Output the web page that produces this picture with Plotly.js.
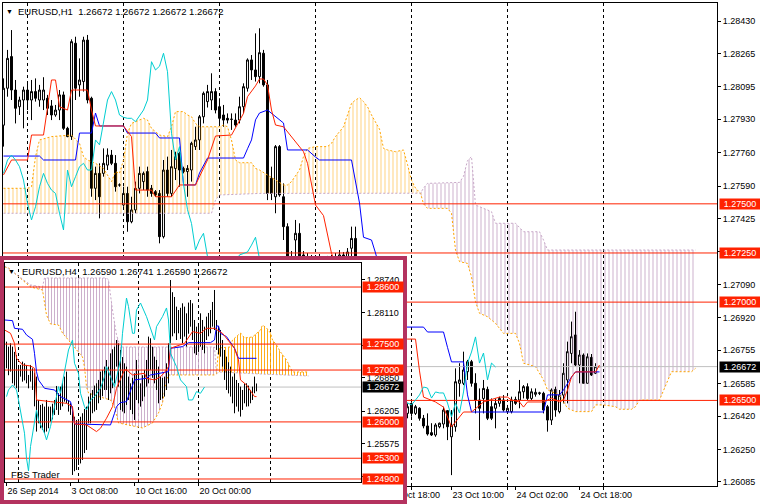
<!DOCTYPE html>
<html><head><meta charset="utf-8">
<script src="https://cdn.plot.ly/plotly-3.0.1.min.js"></script>
<style>html,body{margin:0;padding:0;background:#fff;}#chart{width:760px;height:504px;}</style>
</head><body><div id="chart"></div>
<script>
// ================= MAIN CHART: EURUSD H1 =================
// bar number 0 = 23 Oct 00:00 ; bars are consecutive hours
const h1FirstBar = -102;
const h1Open = [1.27900,1.28088,1.28249,1.28079,1.27994,1.28028,1.28079,1.28028,1.28071,1.28028,1.28028,1.28037,1.27998,1.27952,1.27977,1.28054,1.27884,1.27842,1.28317,1.28105,1.28122,1.28333,1.28037,1.27579,1.27655,1.27655,1.27697,1.27748,1.27706,1.27596,1.27494,1.27553,1.27409,1.27469,1.27579,1.27613,1.27664,1.27579,1.27562,1.27553,1.27333,1.27672,1.27553,1.27680,1.27757,1.27680,1.27664,1.27672,1.27791,1.27825,1.27943,1.28020,1.28028,1.28071,1.27994,1.27952,1.27935,1.27930,1.27926,1.27926,1.27994,1.28088,1.28232,1.28181,1.28147,1.28266,1.28105,1.27630,1.27536,1.27791,1.27536,1.27384,1.27231,1.27316,1.27350,1.27240,1.27190,1.27220,1.27160,1.27200,1.27180,1.27210,1.27214,1.27231,1.27214,1.27240,1.27225,1.27274,1.27324,1.27200,1.27080,1.27000,1.26950,1.26880,1.26800,1.26720,1.26650,1.26560,1.26500,1.26460,1.26480,1.26434,1.26485,1.26434,1.26460,1.26409,1.26370,1.26336,1.26324,1.26366,1.26380,1.26448,1.26315,1.26366,1.26587,1.26587,1.26646,1.26697,1.26587,1.26502,1.26510,1.26556,1.26468,1.26460,1.26485,1.26502,1.26443,1.26443,1.26505,1.26502,1.26544,1.26570,1.26510,1.26531,1.26536,1.26536,1.26468,1.26400,1.26556,1.26443,1.26527,1.26604,1.26739,1.26833,1.26680,1.26731,1.26587,1.26719,1.26638,1.26672];
const h1High = [1.28138,1.28283,1.28384,1.28130,1.28045,1.28096,1.28113,1.28130,1.28138,1.28105,1.28144,1.28054,1.28028,1.28003,1.28079,1.28071,1.27892,1.28337,1.28350,1.28240,1.28350,1.28359,1.28045,1.27689,1.27706,1.27782,1.27782,1.27774,1.27748,1.27604,1.27587,1.27587,1.27536,1.27613,1.27689,1.27664,1.27689,1.27596,1.27570,1.27570,1.27723,1.27740,1.27774,1.27765,1.27765,1.27689,1.27697,1.27816,1.27892,1.27952,1.28071,1.28105,1.28164,1.28088,1.28037,1.28003,1.27960,1.27960,1.27960,1.28045,1.28113,1.28240,1.28257,1.28367,1.28393,1.28283,1.28130,1.27689,1.27799,1.27799,1.27604,1.27401,1.27260,1.27418,1.27401,1.27260,1.27250,1.27240,1.27230,1.27245,1.27230,1.27235,1.27240,1.27250,1.27265,1.27255,1.27275,1.27384,1.27384,1.27215,1.27150,1.27100,1.27050,1.26950,1.26900,1.26800,1.26700,1.26640,1.26580,1.26520,1.26510,1.26485,1.26490,1.26477,1.26465,1.26426,1.26434,1.26384,1.26384,1.26387,1.26468,1.26451,1.26451,1.26663,1.26689,1.26748,1.26706,1.26706,1.26638,1.26561,1.26604,1.26570,1.26510,1.26510,1.26519,1.26527,1.26477,1.26519,1.26519,1.26604,1.26578,1.26587,1.26561,1.26561,1.26544,1.26544,1.26477,1.26561,1.26570,1.26553,1.26689,1.26799,1.26901,1.26951,1.26756,1.26739,1.26739,1.26736,1.26689,1.26672];
const h1Low = [1.27791,1.28045,1.28028,1.27909,1.27952,1.27884,1.27977,1.27926,1.28020,1.27994,1.27977,1.27952,1.27926,1.27943,1.27926,1.27876,1.27839,1.27825,1.28028,1.28045,1.28071,1.28011,1.27536,1.27519,1.27426,1.27638,1.27672,1.27697,1.27562,1.27587,1.27485,1.27358,1.27401,1.27452,1.27553,1.27570,1.27536,1.27536,1.27536,1.27299,1.27324,1.27536,1.27536,1.27621,1.27587,1.27655,1.27536,1.27613,1.27774,1.27774,1.27909,1.27990,1.27977,1.27960,1.27901,1.27892,1.27909,1.27876,1.27892,1.27909,1.27960,1.28071,1.28130,1.28122,1.28113,1.28096,1.27519,1.27519,1.27452,1.27536,1.27316,1.27180,1.27150,1.27231,1.27214,1.27150,1.27130,1.27120,1.27100,1.27150,1.27120,1.27140,1.27150,1.27160,1.27170,1.27180,1.27190,1.27214,1.27214,1.27050,1.26980,1.26900,1.26850,1.26750,1.26700,1.26600,1.26520,1.26480,1.26420,1.26400,1.26410,1.26409,1.26417,1.26426,1.26397,1.26358,1.26321,1.26319,1.26315,1.26358,1.26358,1.26298,1.26120,1.26341,1.26519,1.26578,1.26604,1.26570,1.26434,1.26298,1.26434,1.26400,1.26400,1.26358,1.26468,1.26443,1.26434,1.26434,1.26477,1.26460,1.26510,1.26502,1.26502,1.26519,1.26527,1.26434,1.26341,1.26375,1.26417,1.26434,1.26485,1.26485,1.26689,1.26672,1.26587,1.26587,1.26587,1.26624,1.26634,1.26672];
const h1Close = [1.28088,1.28240,1.28079,1.27986,1.28028,1.28079,1.28028,1.28071,1.28037,1.28079,1.28079,1.27986,1.27952,1.27977,1.28054,1.27884,1.27842,1.28325,1.28088,1.28130,1.28333,1.28028,1.27579,1.27655,1.27536,1.27706,1.27748,1.27706,1.27587,1.27596,1.27553,1.27409,1.27469,1.27579,1.27655,1.27655,1.27570,1.27553,1.27545,1.27333,1.27672,1.27553,1.27689,1.27740,1.27672,1.27664,1.27680,1.27808,1.27825,1.27943,1.28062,1.28071,1.28071,1.27977,1.27935,1.27926,1.27926,1.27930,1.27901,1.27994,1.28096,1.28232,1.28181,1.28147,1.28269,1.28105,1.27553,1.27553,1.27791,1.27545,1.27384,1.27231,1.27200,1.27350,1.27231,1.27190,1.27220,1.27160,1.27200,1.27180,1.27210,1.27214,1.27231,1.27214,1.27240,1.27225,1.27255,1.27324,1.27231,1.27080,1.27000,1.26950,1.26880,1.26800,1.26720,1.26650,1.26560,1.26500,1.26460,1.26480,1.26434,1.26468,1.26434,1.26468,1.26409,1.26370,1.26329,1.26324,1.26375,1.26384,1.26451,1.26366,1.26375,1.26595,1.26604,1.26655,1.26697,1.26587,1.26502,1.26460,1.26561,1.26409,1.26409,1.26485,1.26510,1.26451,1.26460,1.26502,1.26485,1.26544,1.26570,1.26510,1.26544,1.26541,1.26538,1.26451,1.26400,1.26553,1.26451,1.26527,1.26638,1.26748,1.26824,1.26680,1.26731,1.26587,1.26722,1.26629,1.26672,1.26672];

const h1TenkanX = [-102,-100,-96,-95,-92,-91,-90,-89,-88,-86,-85,-81,-80,-79,-72,-70,-69,-65,-64,-60,-58,-54,-51,-49,-45,-42,-41,-39,-38,-37,-36,-35,-34,-32,-27,-26,-25,-24,-22,-21,-20,-18,-14,-10,-5,-2,-1,1,2,3,6,8,10,12,13,15,18,22,24,25,27,28,29,33,35,37,38,39,40,41,46,47];
const h1TenkanY = [1.27647,1.27723,1.27723,1.27850,1.27850,1.27980,1.28130,1.28130,1.27994,1.27977,1.28079,1.28079,1.27977,1.27896,1.27896,1.27842,1.27570,1.27570,1.27536,1.27536,1.27596,1.27596,1.27723,1.27845,1.27850,1.27960,1.28045,1.28100,1.28135,1.28135,1.28105,1.27977,1.27901,1.27892,1.27765,1.27706,1.27604,1.27494,1.27440,1.27350,1.27248,1.27150,1.27050,1.26950,1.26880,1.26812,1.26812,1.26812,1.26650,1.26517,1.26492,1.26466,1.26365,1.26416,1.26441,1.26441,1.26492,1.26517,1.26517,1.26502,1.26492,1.26466,1.26492,1.26492,1.26512,1.26492,1.26502,1.26553,1.26619,1.26645,1.26645,1.26680];
const h1KijunX = [-102,-93,-92,-84,-83,-80,-79,-78,-72,-71,-64,-63,-58,-57,-54,-53,-51,-42,-41,-40,-39,-38,-36,-34,-32,-31,-26,-24,-23,-15,-14,-13,-12,-10,-9,-7,-5,-3,3,4,8,9,10,13,14,15,33,34,37,38,39,40,41,47];
const h1KijunY = [1.27743,1.27743,1.27723,1.27723,1.27860,1.27860,1.27962,1.27896,1.27896,1.27860,1.27860,1.27835,1.27835,1.27596,1.27596,1.27657,1.27733,1.27733,1.27780,1.27825,1.27927,1.27962,1.27977,1.27942,1.27911,1.27774,1.27774,1.27738,1.27723,1.27723,1.27621,1.27504,1.27330,1.27316,1.27250,1.27100,1.26950,1.26873,1.26873,1.26848,1.26848,1.26770,1.26696,1.26696,1.26528,1.26441,1.26441,1.26528,1.26528,1.26553,1.26589,1.26619,1.26645,1.26645];
const h1ChikouX = [-102,-101,-100,-99,-98,-97,-96,-95,-94,-93,-92,-91,-90,-89,-88,-87,-86,-85,-84,-83,-82,-81,-80,-79,-78,-77,-76,-75,-74,-73,-72,-71,-70,-69,-68,-67,-66,-65,-64,-63,-62,-61,-60,-59,-58,-57,-56,-55,-54,-53,-52,-51,-50,-48,-46,-44,-43,-41,-40,-39,-38,-36,-32,-28,-24,-20,-16,-12,-8,-4,-2,-1,0,1,2,3,4,5,6,7,8,9,10,11,12,13,14,15,16,17,18,19,20,21];
const h1ChikouY = [1.27655,1.27723,1.27748,1.27723,1.27689,1.27621,1.27502,1.27418,1.27485,1.27587,1.27655,1.27604,1.27570,1.27553,1.27452,1.27367,1.27672,1.27587,1.27638,1.27689,1.27706,1.27672,1.27672,1.27825,1.27800,1.27920,1.28028,1.28071,1.28028,1.27952,1.27940,1.27935,1.27935,1.27918,1.27950,1.27977,1.28028,1.28223,1.28181,1.28200,1.28266,1.28172,1.27859,1.27723,1.27791,1.27600,1.27470,1.27400,1.27265,1.27316,1.27350,1.27231,1.27180,1.27100,1.27150,1.27200,1.27240,1.27255,1.27290,1.27330,1.27220,1.27100,1.26950,1.26850,1.26750,1.26700,1.26650,1.26600,1.26560,1.26520,1.26500,1.26490,1.26477,1.26502,1.26528,1.26568,1.26563,1.26512,1.26543,1.26538,1.26538,1.26487,1.26416,1.26487,1.26436,1.26543,1.26690,1.26746,1.26823,1.26690,1.26741,1.26604,1.26690,1.26670];
const h1SpanAX = [-102,-96,-95,-94,-93,-90,-85,-83,-82,-81,-79,-77,-75,-74,-73,-72,-71,-70,-67,-66,-65,-63,-61,-60,-59,-57,-56,-55,-54,-53,-48,-47,-46,-45,-44,-43,-40,-39,-38,-34,-32,-31,-30,-28,-27,-26,-24,-21,-20,-19,-17,-16,-15,-14,-13,-12,-11,-10,-9,-8,-7,-6,-4,-2,-1,0,1,2.25,3,4,9,10,11,12,14,15,16,17,19,21,23,26,27,28,31,32,33,34,36,37,39,41,45,46,48,51,52,55,56,57,62,63,64,65,70,71];
const h1SpanAY = [1.27579,1.27579,1.27587,1.27740,1.27825,1.27842,1.27850,1.27808,1.27740,1.27723,1.27706,1.27680,1.27613,1.27664,1.27655,1.27723,1.27859,1.27909,1.27935,1.27926,1.27884,1.27850,1.27842,1.27892,1.27969,1.27969,1.27952,1.27943,1.27909,1.27892,1.27892,1.27901,1.27892,1.27825,1.27723,1.27709,1.27709,1.27680,1.27672,1.27621,1.27596,1.27596,1.27613,1.27672,1.27740,1.27782,1.27791,1.27791,1.27808,1.27842,1.27892,1.27952,1.28011,1.28028,1.28040,1.28020,1.27994,1.27952,1.27918,1.27880,1.27782,1.27774,1.27765,1.27774,1.27700,1.27620,1.27580,1.27554,1.27500,1.27477,1.27477,1.27452,1.27265,1.27206,1.27197,1.27129,1.27002,1.26943,1.26926,1.26892,1.26841,1.26841,1.26790,1.26689,1.26672,1.26638,1.26604,1.26553,1.26536,1.26527,1.26460,1.26443,1.26443,1.26477,1.26477,1.26468,1.26455,1.26455,1.26468,1.26502,1.26502,1.26553,1.26604,1.26646,1.26646,1.26663];
const h1SpanBX = [-102,-50,-49,-48,-38,2.25,3,4,12,13,14,15,16,20,21,26,28,32,33,34,71];
const h1SpanBY = [1.27452,1.27452,1.27519,1.27545,1.27553,1.27554,1.27580,1.27604,1.27609,1.27640,1.27720,1.27740,1.27494,1.27460,1.27401,1.27401,1.27358,1.27358,1.27316,1.27265,1.27265];
const h1CloudCross = [2.25];
const h1Levels = [1.27500, 1.27250, 1.27000, 1.26500];
const h1Bid = 1.26672;
const h1PriceTicks = ['1.28430','1.28265','1.28095','1.27930','1.27760','1.27590','1.27425','1.27255','1.27090','1.26920','1.26755','1.26585','1.26420','1.26250','1.26085'];
const h1HiddenTicks = ['1.27255'];
const h1TimeTickPos = [-6, 10, 26, 42];
const h1TimeTickText = ['22 Oct 18:00','23 Oct 10:00','24 Oct 02:00','24 Oct 18:00'];
const h1GridPos = [-96, -72, -48, -24, 0, 24, 48];
const h1Title = 'EURUSD,H1  1.26672 1.26672 1.26672 1.26672';

// ================= INSET: EURUSD H4 =================
// bar number 0 = 20 Oct 00:00 ; bars are consecutive 4-hour periods
const h4FirstBar = -96;
const h4High = [1.27547,1.27450,1.27515,1.27451,1.27350,1.27290,1.27066,1.27098,1.27162,1.27130,1.27098,1.26905,1.27098,1.27033,1.26950,1.26873,1.26423,1.26327,1.26350,1.26295,1.26423,1.26295,1.26295,1.26350,1.26423,1.26693,1.26552,1.26680,1.26750,1.26873,1.26969,1.26423,1.26359,1.26295,1.26100,1.26038,1.26038,1.26100,1.26167,1.26250,1.26295,1.26488,1.26552,1.26616,1.26700,1.26744,1.26809,1.26969,1.27000,1.27066,1.27194,1.27066,1.27322,1.27400,1.27451,1.27579,1.27515,1.27387,1.27250,1.27130,1.27066,1.26873,1.26744,1.26850,1.26937,1.27194,1.27001,1.26744,1.26900,1.27001,1.27194,1.27644,1.27612,1.27450,1.27258,1.27194,1.27066,1.26873,1.26850,1.26873,1.27130,1.27515,1.28735,1.28500,1.28408,1.28222,1.28157,1.28200,1.28286,1.28222,1.28093,1.28300,1.28350,1.28286,1.27965,1.27836,1.27900,1.28093,1.27965,1.27836,1.28029,1.28100,1.28157,1.28312,1.28543,1.27965,1.27850,1.27772,1.27579,1.27387,1.27258,1.27150,1.27066,1.26873,1.26937,1.26809,1.26750,1.26680,1.26616,1.26744,1.26744,1.26700,1.26616,1.26680,1.26873,1.26741];
const h4Low = [1.27033,1.26900,1.26969,1.26744,1.26700,1.26648,1.26616,1.26873,1.26776,1.26800,1.26744,1.26648,1.26776,1.26616,1.26300,1.25814,1.25974,1.25878,1.25850,1.25782,1.25814,1.25878,1.26006,1.26050,1.26135,1.26231,1.26135,1.26231,1.26300,1.26391,1.26359,1.26199,1.26135,1.24978,1.25050,1.25074,1.25170,1.25200,1.25267,1.25400,1.25460,1.25974,1.25974,1.26167,1.26200,1.26231,1.26359,1.26423,1.26500,1.26616,1.26616,1.26423,1.26552,1.26650,1.26744,1.27066,1.26680,1.26231,1.26200,1.26167,1.26327,1.26423,1.26231,1.26150,1.26038,1.26423,1.26359,1.26295,1.26400,1.26488,1.26680,1.26744,1.27001,1.26850,1.26744,1.26616,1.26359,1.26423,1.26450,1.26488,1.26616,1.26744,1.27515,1.27650,1.27708,1.27579,1.27708,1.27600,1.27515,1.27644,1.27451,1.27700,1.27836,1.27579,1.27322,1.27290,1.27350,1.27451,1.27387,1.27322,1.27579,1.27650,1.27708,1.27836,1.27772,1.27387,1.27300,1.27258,1.27066,1.26809,1.26616,1.26550,1.26488,1.26359,1.26167,1.26295,1.26200,1.26103,1.26231,1.26359,1.26295,1.26300,1.26359,1.26423,1.26552,1.26590];
const h4TenkanX = [-97,-94,-92,-91,-88,-84,-82,-81,-74,-66,-63,-62,-56,-51,-49,-46,-43,-41,-37,-36,-33,-27,-26,-22,-19,-17,-15,-14,-7,-3,1,4,8,12,16,18,20,21,24,28,29];
const h4TenkanY = [1.27772,1.27708,1.27515,1.27226,1.27098,1.27079,1.27033,1.26423,1.26391,1.26359,1.26295,1.25961,1.25942,1.25814,1.25878,1.26071,1.26295,1.26648,1.27001,1.27001,1.26905,1.26937,1.26841,1.26809,1.26873,1.26950,1.27066,1.27419,1.27515,1.27740,1.27708,1.27804,1.27804,1.27708,1.27515,1.27419,1.27194,1.26809,1.26712,1.26488,1.26488];
const h4KijunX = [-97,-93,-92,-88,-86,-83,-82,-81,-80,-77,-72,-69,-64,-63,-62,-44,-42,-41,-39,-36,-32,-26,-24,-19,-15,-14,-8,-5,6,8,9,10,11,14,18,20,29];
const h4KijunY = [1.27965,1.27952,1.27804,1.27785,1.27676,1.27592,1.27322,1.26969,1.26809,1.26648,1.26616,1.26488,1.26391,1.26231,1.25961,1.25942,1.26167,1.26295,1.26373,1.26391,1.26809,1.26841,1.26905,1.26937,1.26969,1.27419,1.27451,1.27528,1.27528,1.27579,1.27849,1.27849,1.27708,1.27644,1.27419,1.27226,1.27226];
const h4ChikouX = [-96,-95,-93,-91,-90,-87,-86,-85,-84,-82,-81,-80,-77,-76,-74,-72,-70,-69,-67,-66,-65,-63,-62,-60,-59,-57,-56,-54,-52,-49,-47,-46,-44,-42,-39,-38,-36,-35,-33,-32,-31,-29,-26,-22,-21,-18,-16,-15,-14,-11,-9,-6,-5,-3,-1,1,3];
const h4ChikouY = [1.26488,1.26616,1.26712,1.26616,1.26423,1.25782,1.25300,1.25055,1.25526,1.26038,1.26231,1.26038,1.25782,1.25654,1.25910,1.26295,1.26680,1.26552,1.26937,1.27194,1.27387,1.27579,1.27130,1.26937,1.26552,1.26295,1.26231,1.26423,1.26488,1.26648,1.26873,1.27066,1.26873,1.26680,1.27194,1.27708,1.28388,1.28222,1.27708,1.27708,1.28157,1.28292,1.28029,1.27579,1.27836,1.28029,1.28196,1.27965,1.27322,1.27066,1.26809,1.26680,1.26423,1.26423,1.26584,1.26552,1.26672];
const h4SpanAX = [-97,-95,-88,-84,-78,-77,-76,-74,-70,-68,-65,-61,-58,-57,-56,-55,-51,-44,-42,-40,-28,-23,-20,-18,-16,-15,8,9,10,16,17,21,23,27,29,31,32,34,36,37,39,41,44,46,47,55];
const h4SpanAY = [1.28990,1.28967,1.28735,1.28600,1.28543,1.28254,1.28061,1.27888,1.27868,1.27714,1.27579,1.27387,1.27252,1.27059,1.26673,1.26558,1.26500,1.26423,1.26288,1.25980,1.25884,1.25980,1.26173,1.26365,1.26808,1.26905,1.26905,1.26924,1.27425,1.27444,1.27579,1.27714,1.27618,1.27637,1.27714,1.27772,1.27868,1.27811,1.27714,1.27579,1.27483,1.27348,1.27194,1.27040,1.26963,1.26963];
const h4SpanBX = [-97,-88,-84,-78,-77,-46,-45,-43,-41,-39,8,9,10,31,55];
const h4SpanBY = [1.29010,1.28760,1.28640,1.28600,1.28774,1.28774,1.28735,1.28157,1.27676,1.27444,1.27444,1.26924,1.26963,1.26924,1.26886];
const h4CloudCross = [9];
const h4Levels = [1.28600, 1.27500, 1.27000, 1.26000, 1.25300, 1.24900];
const h4Bid = 1.26672;
const h4PriceTicks = ['1.28740','1.28110','1.27480','1.26850','1.26205','1.25575','1.24945'];
const h4HiddenTicks = ['1.27480','1.24945'];
const h4TimeTickPos = [-96, -64, -32, 0];
const h4TimeTickText = ['26 Sep 2014','3 Oct 08:00','10 Oct 16:00','20 Oct 00:00'];
const h4GridPos = [-90, -60, -30, 0.000001, 36];
const h4Title = 'EURUSD,H4  1.26590 1.26741 1.26590 1.26672';
const brandText = 'FBS Trader';

// ================= styling / build =================
const FONT = 'Liberation Sans, Arial, sans-serif';
const RED = '#FF2200', BLUE = '#0000FF', CYAN = '#00CED1', ORANGE = '#FFA500', THISTLE = '#C8A8C8', BIDGRAY = '#C0C0C0';
const MAGENTA = '#B4325F';
// ranges offset by half a pixel so 1px vertical strokes land on whole pixels
const h1XRange = [-102.125, 76.375], h1YRange = [1.260646, 1.285216];
const h4XRange = [-96.75, 81.25], h4YRange = [1.24842, 1.29063];

function cloudTraces(ax, ay, bx, by, cross, xa, ya, size, opA, opB) {
  const xmin = Math.min(ax[0], bx[0]), xmax = Math.max(ax[ax.length-1], bx[bx.length-1]);
  const brk = [xmin].concat(cross, [xmax]);
  const out = [];
  for (let k = 0; k < brk.length - 1; k++) {
    const x0 = brk[k], x1 = brk[k+1];
    const A = ax.map((x, n) => [x, ay[n]]).filter(p => p[0] >= x0 && p[0] <= x1);
    const B = bx.map((x, n) => [x, by[n]]).filter(p => p[0] >= x0 && p[0] <= x1);
    const mA = A.reduce((s, p) => s + p[1], 0) / A.length;
    const mB = B.reduce((s, p) => s + p[1], 0) / B.length;
    const up = mA >= mB;
    const col = up ? ORANGE : THISTLE;
    const poly = A.concat(B.slice().reverse());
    out.push({type:'scatter', mode:'lines', x: poly.map(p => p[0]), y: poly.map(p => p[1]),
      xaxis: xa, yaxis: ya, line:{width:0, color: col}, fill:'toself', fillcolor:'rgba(0,0,0,0)',
      fillpattern:{shape:'|', size: size, solidity: 1/size, fgcolor: col, bgcolor:'rgba(0,0,0,0)', fgopacity: up ? opA : opB},
      hoverinfo:'skip'});
  }
  return out;
}
function line(x, y, xa, ya, color, dash) {
  return {type:'scatter', mode:'lines', x: x, y: y, xaxis: xa, yaxis: ya,
    line:{color: color, width: 1, dash: dash || 'solid'}, hoverinfo:'skip'};
}
function hline(v, xr, xa, ya, color) { return line([xr[0], xr[1]], [v, v], xa, ya, color); }

const h1X = h1Open.map((_, k) => h1FirstBar + k);
const h4X = h4High.map((_, k) => h4FirstBar + k);
const traces = [];
// ---- main ----
cloudTraces(h1SpanAX, h1SpanAY, h1SpanBX, h1SpanBY, h1CloudCross, 'x', 'y', 4, 0.5, 0.9).forEach(t => traces.push(t));
traces.push(line(h1SpanAX, h1SpanAY, 'x', 'y', ORANGE, '2px,2px'));
traces.push(line(h1SpanBX, h1SpanBY, 'x', 'y', THISTLE, '2px,2px'));
traces.push(hline(h1Bid, h1XRange, 'x', 'y', BIDGRAY));
traces.push({type:'candlestick', x: h1X, open: h1Open, high: h1High, low: h1Low, close: h1Close,
  xaxis:'x', yaxis:'y', whiskerwidth: 0, hoverinfo:'skip',
  increasing:{line:{color:'#000', width:1}, fillcolor:'#fff'},
  decreasing:{line:{color:'#000', width:1}, fillcolor:'#000'}});
h1Levels.forEach(v => traces.push(hline(v, h1XRange, 'x', 'y', RED)));
traces.push(line(h1KijunX, h1KijunY, 'x', 'y', BLUE));
traces.push(line(h1TenkanX, h1TenkanY, 'x', 'y', RED));
traces.push(line(h1ChikouX, h1ChikouY, 'x', 'y', CYAN));
// ---- cover for inset window ----
traces.push({type:'scatter', mode:'lines', x:[-1,2,2,-1,-1], y:[-1,-1,2,2,-1], xaxis:'x2', yaxis:'y2',
  fill:'toself', fillcolor:'#ffffff', line:{width:0, color:'#fff'}, hoverinfo:'skip'});
// ---- inset ----
cloudTraces(h4SpanAX, h4SpanAY, h4SpanBX, h4SpanBY, h4CloudCross, 'x3', 'y3', 3, 0.9, 0.9).forEach(t => traces.push(t));
traces.push(line(h4SpanAX, h4SpanAY, 'x3', 'y3', ORANGE, '2px,2px'));
traces.push(line(h4SpanBX, h4SpanBY, 'x3', 'y3', THISTLE, '2px,2px'));
traces.push(hline(h4Bid, h4XRange, 'x3', 'y3', BIDGRAY));
(function(){
  const X = [], Y = [];
  h4X.forEach((x, k) => { X.push(x, x, null); Y.push(h4Low[k], h4High[k], null); });
  traces.push({type:'scatter', mode:'lines', x: X, y: Y, xaxis:'x3', yaxis:'y3', connectgaps:false,
    line:{color:'#000', width:1}, hoverinfo:'skip'});
})();
h4Levels.forEach(v => traces.push(hline(v, h4XRange, 'x3', 'y3', RED)));
traces.push(line(h4KijunX, h4KijunY, 'x3', 'y3', BLUE));
traces.push(line(h4TenkanX, h4TenkanY, 'x3', 'y3', RED));
traces.push(line(h4ChikouX, h4ChikouY, 'x3', 'y3', CYAN));

const W = 760, H = 504;
const px = v => v / W, py = v => 1 - v / H;
const axBase = {showline:true, mirror:true, linecolor:'#000', linewidth:1, zeroline:false, showgrid:false,
  ticks:'outside', ticklen:3, tickcolor:'#000', tickwidth:1, fixedrange:true,
  tickfont:{family: FONT, size: 9, color:'#000'}};
const tickLabels = (list, hidden) => list.map(s => hidden.indexOf(s) >= 0 ? '' : s);

const annotations = [];
function box(v, x, yref, bg) {
  annotations.push({xref:'paper', yref: yref, x: x, y: v, xanchor:'left', yanchor:'middle',
    text: v.toFixed(5), showarrow:false, bgcolor: bg, borderpad:0, width:40, height:10, align:'center',
    font:{family: FONT, size: 9, color:'#fff'}});
}
h1Levels.forEach(v => box(v, px(719), 'y', RED));
box(h1Bid, px(719), 'y', '#000');
h4Levels.forEach(v => box(v, px(362), 'y3', RED));
box(h4Bid, px(362), 'y3', '#000');
function txt(s, x, y, size) {
  annotations.push({xref:'paper', yref:'paper', x: px(x), y: py(y), xanchor:'left', yanchor:'middle',
    text: s, showarrow:false, font:{family: FONT, size: size, color:'#000'}});
}
txt('\u25BC', 4, 11, 7);
txt(h1Title, 16, 11, 9.5);
txt('\u25BC', 6, 271, 7);
txt(h4Title, 20, 271, 9.5);
txt(brandText, 9, 474, 9.5);

const layout = {
  width: W, height: H, margin:{l:0, r:0, t:0, b:0, pad:0},
  paper_bgcolor:'#fff', plot_bgcolor:'#fff', showlegend:false, hovermode:false,
  font:{family: FONT, size: 9, color:'#000'},
  xaxis: Object.assign({}, axBase, {domain:[px(3), px(717)], range: h1XRange, anchor:'y',
    tickmode:'array', tickvals: h1TimeTickPos, ticktext: h1TimeTickText, ticklabelposition:'outside right',
    rangeslider:{visible:false},
    minor:{tickmode:'array', tickvals: h1GridPos, ticks:'outside', ticklen:3, tickcolor:'#000',
      showgrid:true, gridcolor:'#000', gridwidth:1, griddash:'3px,3px'}}),
  yaxis: Object.assign({}, axBase, {domain:[py(486), py(3)], range: h1YRange, anchor:'x', side:'right',
    tickmode:'array', tickvals: h1PriceTicks.map(Number), ticktext: tickLabels(h1PriceTicks, h1HiddenTicks)}),
  xaxis2: {domain:[0, px(407)], range:[0,1], anchor:'y2', visible:false, fixedrange:true},
  yaxis2: {domain:[0, py(256)], range:[0,1], anchor:'x2', visible:false, fixedrange:true},
  xaxis3: Object.assign({}, axBase, {domain:[px(5), px(361)], range: h4XRange, anchor:'y3',
    tickmode:'array', tickvals: h4TimeTickPos, ticktext: h4TimeTickText, ticklabelposition:'outside right',
    minor:{tickmode:'array', tickvals: h4GridPos, ticks:'', showgrid:true, gridcolor:'#000', gridwidth:1, griddash:'3px,3px'}}),
  yaxis3: Object.assign({}, axBase, {domain:[py(482), py(263)], range: h4YRange, anchor:'x3', side:'right',
    tickmode:'array', tickvals: h4PriceTicks.map(Number), ticktext: tickLabels(h4PriceTicks, h4HiddenTicks)}),
  shapes:[{type:'rect', xref:'paper', yref:'paper', x0: px(2), x1: px(405), y0: py(502), y1: py(258),
    line:{color: MAGENTA, width:4}, fillcolor:'rgba(0,0,0,0)', layer:'above'}],
  annotations: annotations
};
Plotly.newPlot('chart', traces, layout, {staticPlot:true, displayModeBar:false});
</script></body></html>
